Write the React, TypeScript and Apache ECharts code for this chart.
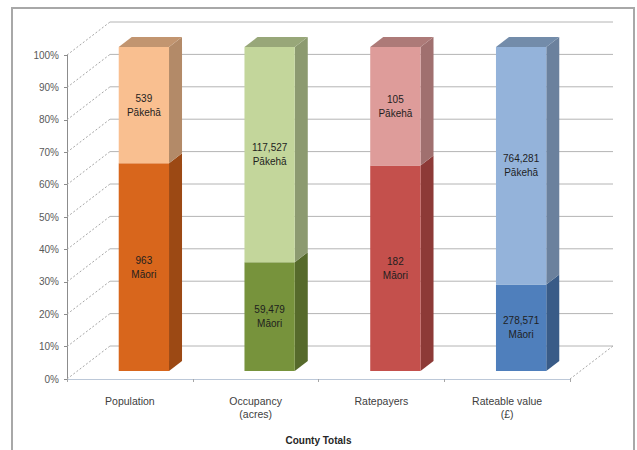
import React, { useEffect, useRef } from "react";
import * as echarts from "echarts";

// County totals, split between Māori and Pākehā
const categories = ["Population", "Occupancy\n(acres)", "Ratepayers", "Rateable value\n(£)"];
const maoriValues = [963, 59479, 182, 278571];
const pakehaValues = [539, 117527, 105, 764281];
const maoriLabel = "Māori";
const pakehaLabel = "Pākehā";
const percentTicks = [0, 10, 20, 30, 40, 50, 60, 70, 80, 90, 100];

// palette per column: lower (Māori) and upper (Pākehā) segment
const maoriColors = ["#D8661C", "#77933C", "#C4504C", "#4F7FBC"];
const pakehaColors = ["#F9BF90", "#C3D69B", "#DE9C9A", "#94B3DA"];

// 3-D look: depth of the wall and of the columns (px)
const WALL_DX = 43;
const WALL_DY = -33;
const FRONT_DX = 14;
const FRONT_DY = -8;
const BAR_DX = 13;
const BAR_DY = -10;
const BAR_RATIO = 0.4;

const FONT = "Liberation Sans, Arial, sans-serif";

function shade(hex: string, f: number): string {
  const n = parseInt(hex.slice(1), 16);
  const r = Math.round(((n >> 16) & 255) * f);
  const g = Math.round(((n >> 8) & 255) * f);
  const b = Math.round((n & 255) * f);
  return `rgb(${Math.min(255, r)},${Math.min(255, g)},${Math.min(255, b)})`;
}

export default function App() {
  const ref = useRef<HTMLDivElement>(null);

  useEffect(() => {
    if (!ref.current) return;
    const chart = echarts.init(ref.current, null, { renderer: "svg", width: 637, height: 450 });

    const rows = categories.map((_, i) => {
      const total = maoriValues[i] + pakehaValues[i];
      return [i, (maoriValues[i] / total) * 100, (pakehaValues[i] / total) * 100];
    });

    const wallSeries = {
      type: "custom",
      coordinateSystem: "cartesian2d",
      silent: true,
      z: 1,
      data: [[0, 0]],
      renderItem: (params: any, api: any) => {
        const cs = params.coordSys;
        const left = cs.x;
        const right = cs.x + cs.width;
        const children: any[] = [];
        percentTicks.forEach((v) => {
          const y = api.coord([0, v])[1];
          children.push({
            type: "line",
            shape: { x1: left, y1: y, x2: left + WALL_DX, y2: y + WALL_DY },
            style: { stroke: "#A6A6A6", lineWidth: 1, lineDash: [2, 2] },
          });
          children.push({
            type: "line",
            shape: { x1: left + WALL_DX, y1: y + WALL_DY, x2: right + WALL_DX, y2: y + WALL_DY },
            style: { stroke: "#B4B4B4", lineWidth: 1 },
          });
        });
        const y0 = api.coord([0, 0])[1];
        children.push({
          type: "line",
          shape: { x1: right, y1: y0, x2: right + WALL_DX, y2: y0 + WALL_DY },
          style: { stroke: "#A6A6A6", lineWidth: 1, lineDash: [2, 2] },
        });
        return { type: "group", children };
      },
    };

    const barSeries = {
      type: "custom",
      coordinateSystem: "cartesian2d",
      z: 3,
      data: rows,
      encode: { x: 0, y: [1, 2] },
      renderItem: (params: any, api: any) => {
        const i = api.value(0);
        const pM = api.value(1);
        const pP = api.value(2);
        const bw = api.size([1, 0])[0] * BAR_RATIO;
        const c0 = api.coord([i, 0]);
        const c1 = api.coord([i, pM]);
        const c2 = api.coord([i, pM + pP]);
        const fx = c0[0] + FRONT_DX - bw / 2;
        const ys = [c0[1] + FRONT_DY, c1[1] + FRONT_DY, c2[1] + FRONT_DY];
        const segs = [
          { y0: ys[0], y1: ys[1], color: maoriColors[i], text: `${maoriValues[i].toLocaleString("en-US")}\n${maoriLabel}` },
          { y0: ys[1], y1: ys[2], color: pakehaColors[i], text: `${pakehaValues[i].toLocaleString("en-US")}\n${pakehaLabel}` },
        ];
        const children: any[] = [];
        segs.forEach((s) => {
          children.push({
            type: "polygon",
            shape: {
              points: [
                [fx + bw, s.y0],
                [fx + bw + BAR_DX, s.y0 + BAR_DY],
                [fx + bw + BAR_DX, s.y1 + BAR_DY],
                [fx + bw, s.y1],
              ],
            },
            style: { fill: shade(s.color, 0.72) },
          });
          children.push({
            type: "rect",
            shape: { x: fx, y: s.y1, width: bw, height: s.y0 - s.y1 },
            style: { fill: s.color },
          });
        });
        const top = ys[2];
        children.push({
          type: "polygon",
          shape: {
            points: [
              [fx, top],
              [fx + BAR_DX, top + BAR_DY],
              [fx + bw + BAR_DX, top + BAR_DY],
              [fx + bw, top],
            ],
          },
          style: { fill: shade(pakehaColors[i], 0.78) },
        });
        segs.forEach((s) => {
          children.push({
            type: "text",
            style: {
              x: fx + bw / 2,
              y: (s.y0 + s.y1) / 2,
              text: s.text,
              align: "center",
              verticalAlign: "middle",
              fill: "#1E1E1E",
              fontSize: 10,
              lineHeight: 14,
              fontFamily: FONT,
            },
          });
        });
        return { type: "group", children };
      },
    };

    chart.setOption({
      animation: false,
      backgroundColor: "#FFFFFF",
      graphic: [
        {
          type: "rect",
          shape: { x: 12, y: 8, width: 622, height: 452 },
          style: { fill: "none", stroke: "#A8A8A8", lineWidth: 2 },
          silent: true,
          z: 0,
        },
      ],
      grid: { left: 67, top: 55, width: 503, height: 325 },
      xAxis: {
        type: "category",
        data: categories,
        boundaryGap: true,
        name: "County Totals",
        nameLocation: "middle",
        nameGap: 56,
        nameTextStyle: { fontSize: 10, fontWeight: "bold", color: "#262626", fontFamily: FONT },
        axisLine: { show: true, lineStyle: { color: "#BCC8D8", width: 1 } },
        axisTick: { show: true, length: 3, lineStyle: { color: "#A6A6A6" } },
        axisLabel: { fontSize: 10.5, color: "#404040", margin: 15, lineHeight: 13, fontFamily: FONT },
        splitLine: { show: false },
      },
      yAxis: {
        type: "value",
        min: 0,
        max: 100,
        interval: 10,
        axisLine: { show: true, lineStyle: { color: "#8C8C8C", width: 1 } },
        axisTick: { show: true, length: 3, lineStyle: { color: "#8C8C8C" } },
        axisLabel: { formatter: "{value}%", fontSize: 10, color: "#595959", margin: 8, fontFamily: FONT },
        splitLine: { show: false },
      },
      series: [wallSeries, barSeries],
    });

    return () => chart.dispose();
  }, []);

  return (
    <div
      ref={ref}
      style={{ position: "fixed", left: 0, top: 0, width: 637, height: 450, background: "#FFFFFF" }}
    />
  );
}
